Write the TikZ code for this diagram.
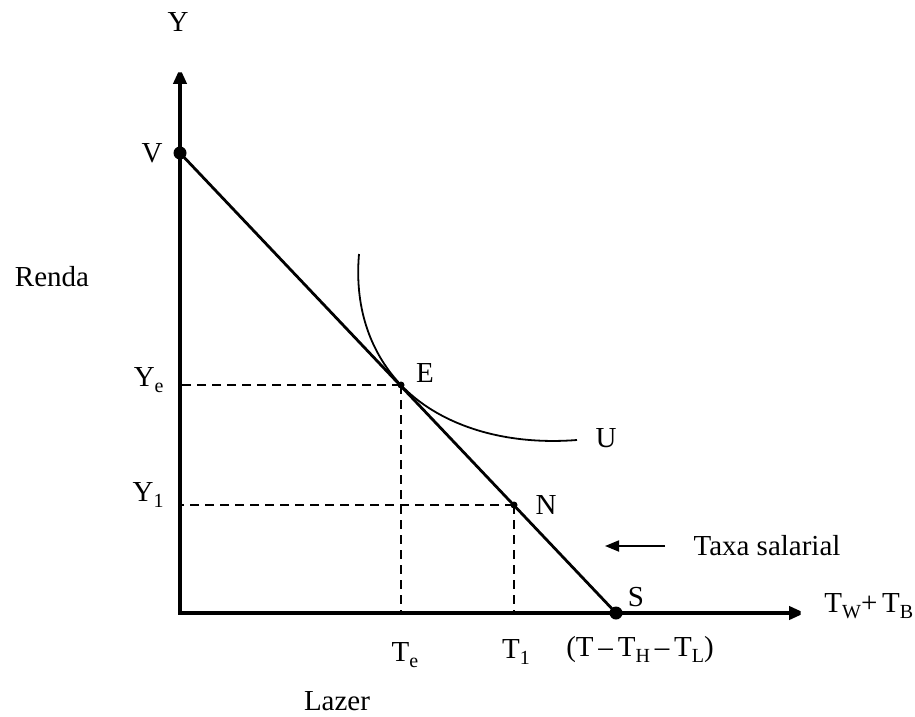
\documentclass[tikz,border=0pt]{standalone}
\usepackage{fontspec}
\setmainfont{Liberation Serif}
\usepackage{tikz}
\usetikzlibrary{arrows.meta}
\newcommand{\lo}[1]{\raisebox{-0.45ex}{\fontsize{10}{10}\selectfont #1}}
\tikzset{
  axisline/.style={line width=2.4pt, miter limit=2,
    {Triangle[length=8pt,width=6.5pt]}-{Triangle[length=8pt,width=6.5pt]}},
  budget/.style={line width=1.4pt},
  indiff/.style={line width=0.9pt},
  guide/.style={line width=1pt, dash pattern=on 4.5pt off 3pt},
  lbl/.style={font=\fontsize{14.5}{17}\selectfont, inner sep=1pt},
  bigdot/.style={circle, fill, inner sep=0pt, minimum size=6.5pt},
  smalldot/.style={circle, fill, inner sep=0pt, minimum size=3.5pt},
  pointer/.style={line width=0.9pt, -{Triangle[length=7pt,width=5.5pt]}},
}
\begin{document}
\begin{tikzpicture}[x=0.5pt, y=-0.5pt]
  \useasboundingbox (0,0) rectangle (915,717);
  % axes
  \coordinate (O) at (180,613);
  \coordinate (ytip) at (180,68);
  \coordinate (xtip) at (805,613);
  \draw[axisline] (ytip) -- (O) -- (xtip);
  % points
  \node[bigdot] (V) at (180,153) {};
  \node[bigdot] (S) at (616,613) {};
  \node[smalldot] (E) at (401,385) {};
  \node[smalldot] (N) at (514,505) {};
  \draw[budget] (V.center) -- (S.center);
  % indifference curve
  \coordinate (Utop) at (359,254);
  \coordinate (Uend) at (577,440);
  \draw[indiff] (Utop) .. controls (354,312) and (373,355.5) .. (E.center)
    .. controls (437,423) and (500,446) .. (Uend);
  % dashed guides
  \draw[guide] (E.center) -- (E.center -| O);
  \draw[guide] (E.center) -- (E.center |- O);
  \draw[guide] (N.center) -- (N.center -| O);
  \draw[guide] (N.center) -- (N.center |- O);
  % labels
  \node[lbl] (ylab) at (178,22) {Y};
  \node[lbl] (vlab) at (152,153) {V};
  \node[lbl] (renda) at (52,277) {Renda};
  \node[lbl, anchor=east] (ye) at (166,380) {Y\lo{e}};
  \node[lbl, anchor=east] (y1) at (166,495) {Y\lo{1}};
  \node[lbl] (elab) at (425,373) {E};
  \node[lbl] (nlab) at (546,505) {N};
  \node[lbl] (ulab) at (606,438) {U};
  \node[lbl] (slab) at (636,597) {S};
  \node[lbl] (te) at (405,655) {T\lo{e}};
  \node[lbl] (t1) at (516,652) {T\lo{1}};
  \node[lbl] (tmax) at (640,650) {(T\,–\,T\lo{H}\,–\,T\lo{L})};
  \node[lbl] (lazer) at (337,701) {Lazer};
  \node[lbl, anchor=west] (xlab) at (822,606) {T\lo{W}+\,T\lo{B}};
  \node[lbl] (taxa) at (767,546) {Taxa salarial};
  \coordinate (taxatail) at (665,546);
  \coordinate (taxatip) at (605,546);
  \draw[pointer] (taxatail) -- (taxatip);
\end{tikzpicture}
\end{document}
